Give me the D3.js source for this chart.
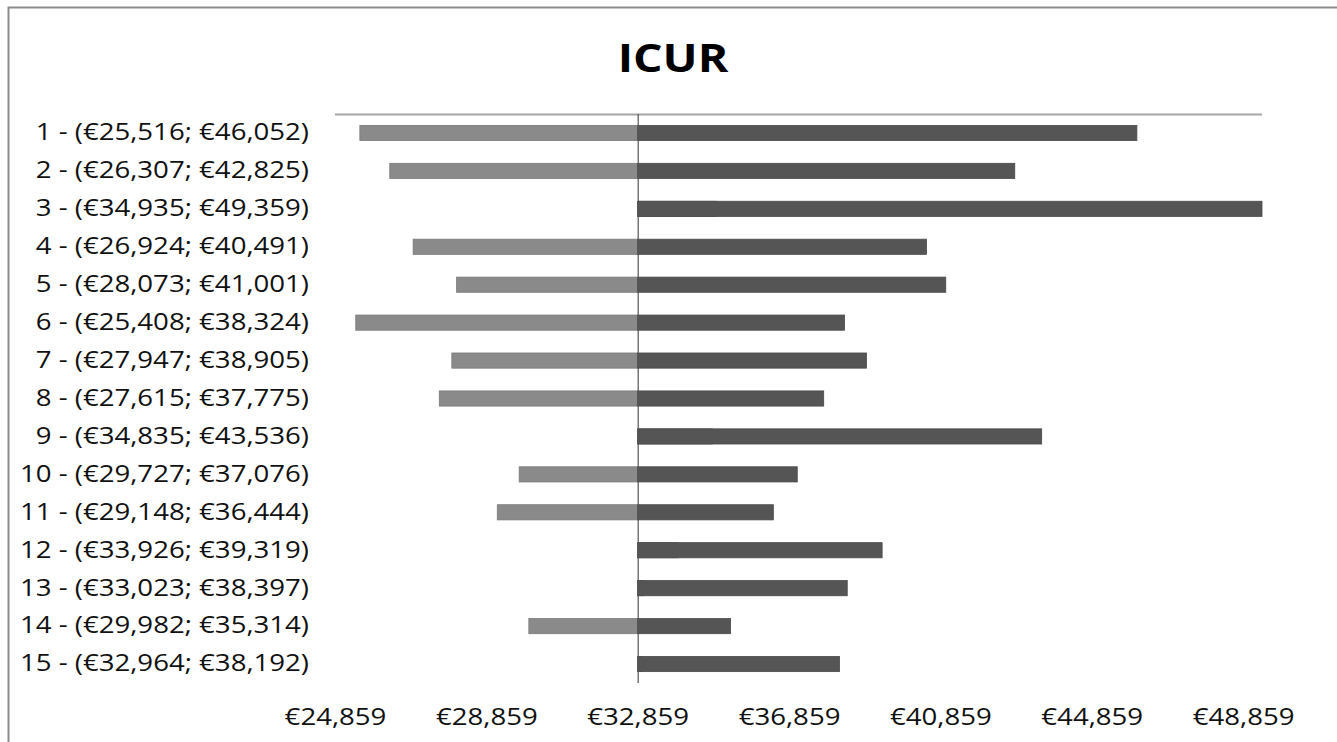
<!DOCTYPE html>
<html>
<head>
<meta charset="utf-8">
<script src="https://cdn.jsdelivr.net/npm/d3@7"></script>
<style>
  html, body { margin: 0; padding: 0; background: #fff; }
</style>
</head>
<body>
<div class="main"></div>
<script>
// Chart parameters
const width = 1337;
const height = 742;
const margin = { top: 114, right: 75, bottom: 59, left: 335 };
const stretch = 1.2; // the original text is drawn wide

// Data
const categories = [
  '1 - (€25,516; €46,052)',
  '2 - (€26,307; €42,825)',
  '3 - (€34,935; €49,359)',
  '4 - (€26,924; €40,491)',
  '5 - (€28,073; €41,001)',
  '6 - (€25,408; €38,324)',
  '7 - (€27,947; €38,905)',
  '8 - (€27,615; €37,775)',
  '9 - (€34,835; €43,536)',
  '10 - (€29,727; €37,076)',
  '11 - (€29,148; €36,444)',
  '12 - (€33,926; €39,319)',
  '13 - (€33,023; €38,397)',
  '14 - (€29,982; €35,314)',
  '15 - (€32,964; €38,192)'
];
const lowValues = [25516, 26307, 34935, 26924, 28073, 25408, 27947, 27615, 34835, 29727, 29148, 33926, 33023, 29982, 32964];
const highValues = [46052, 42825, 49359, 40491, 41001, 38324, 38905, 37775, 43536, 37076, 36444, 39319, 38397, 35314, 38192];
const baseValue = 32859;
const tickValues = [24859, 28859, 32859, 36859, 40859, 44859, 48859];

const rows = categories.map((c, i) => ({ label: c, low: lowValues[i], high: highValues[i] }));

const svg = d3.select('.main')
  .append('svg')
  .attr('width', width)
  .attr('height', height)
  .style('display', 'block');

// Outer frame (left and top edges)
svg.append('path')
  .attr('d', `M8.5,${height} V7.5 H${width}`)
  .attr('fill', 'none')
  .attr('stroke', '#8c8c8c')
  .attr('stroke-width', 2);

// Title
svg.append('text')
  .attr('transform', `translate(673, 72) scale(1.16, 1)`)
  .attr('text-anchor', 'middle')
  .style('font', 'bold 40px "Open Sans", sans-serif')
  .style('fill', '#000')
  .text('ICUR');

// Scales
const x = d3.scaleLinear()
  .domain([24859, 49359])
  .range([margin.left, 1262]);

const y = d3.scaleBand()
  .domain(categories)
  .range([margin.top, height - margin.bottom])
  .paddingInner(0.6)
  .paddingOuter(0.3);

// Top line of the plot area
svg.append('line')
  .attr('x1', x(24859)).attr('x2', x(49359))
  .attr('y1', margin.top + 0.5).attr('y2', margin.top + 0.5)
  .attr('stroke', '#a6a6a6')
  .attr('stroke-width', 2);

// Low-side bars
svg.append('g')
  .selectAll('rect')
  .data(rows)
  .join('rect')
  .attr('x', d => x(Math.min(d.low, baseValue)))
  .attr('width', d => Math.abs(x(d.low) - x(baseValue)))
  .attr('y', d => y(d.label))
  .attr('height', y.bandwidth())
  .attr('fill', '#8a8a8a')
  .attr('stroke', '#7a7a7a')
  .attr('stroke-width', 0.8);

// High-side bars
svg.append('g')
  .selectAll('rect')
  .data(rows)
  .join('rect')
  .attr('x', d => x(Math.min(d.high, baseValue)))
  .attr('width', d => Math.abs(x(d.high) - x(baseValue)))
  .attr('y', d => y(d.label))
  .attr('height', y.bandwidth())
  .attr('fill', '#555555')
  .attr('stroke', '#4a4a4a')
  .attr('stroke-width', 0.8);

// Base line
svg.append('line')
  .attr('x1', x(baseValue) + 0.5).attr('x2', x(baseValue) + 0.5)
  .attr('y1', margin.top).attr('y2', height - margin.bottom)
  .attr('stroke', '#555')
  .attr('stroke-width', 1.2);

// Category labels
svg.append('g')
  .attr('transform', 'translate(309, 0)')
  .call(d3.axisLeft(y).tickSize(0).tickPadding(0))
  .call(g => g.select('.domain').remove())
  .call(g => g.selectAll('text')
    .attr('transform', `scale(${stretch}, 1)`)
    .style('font', '500 23px "Open Sans", sans-serif')
    .style('fill', '#111'));

// Horizontal axis labels
svg.append('g')
  .attr('transform', 'translate(0, 709)')
  .call(d3.axisBottom(x).tickValues(tickValues).tickSize(0).tickPadding(0)
    .tickFormat(d => '€' + d3.format(',')(d)))
  .call(g => g.select('.domain').remove())
  .call(g => g.selectAll('text')
    .attr('dy', '0.71em')
    .attr('transform', `scale(${stretch}, 1)`)
    .style('font', '500 23px "Open Sans", sans-serif')
    .style('fill', '#111'));
</script>
</body>
</html>
